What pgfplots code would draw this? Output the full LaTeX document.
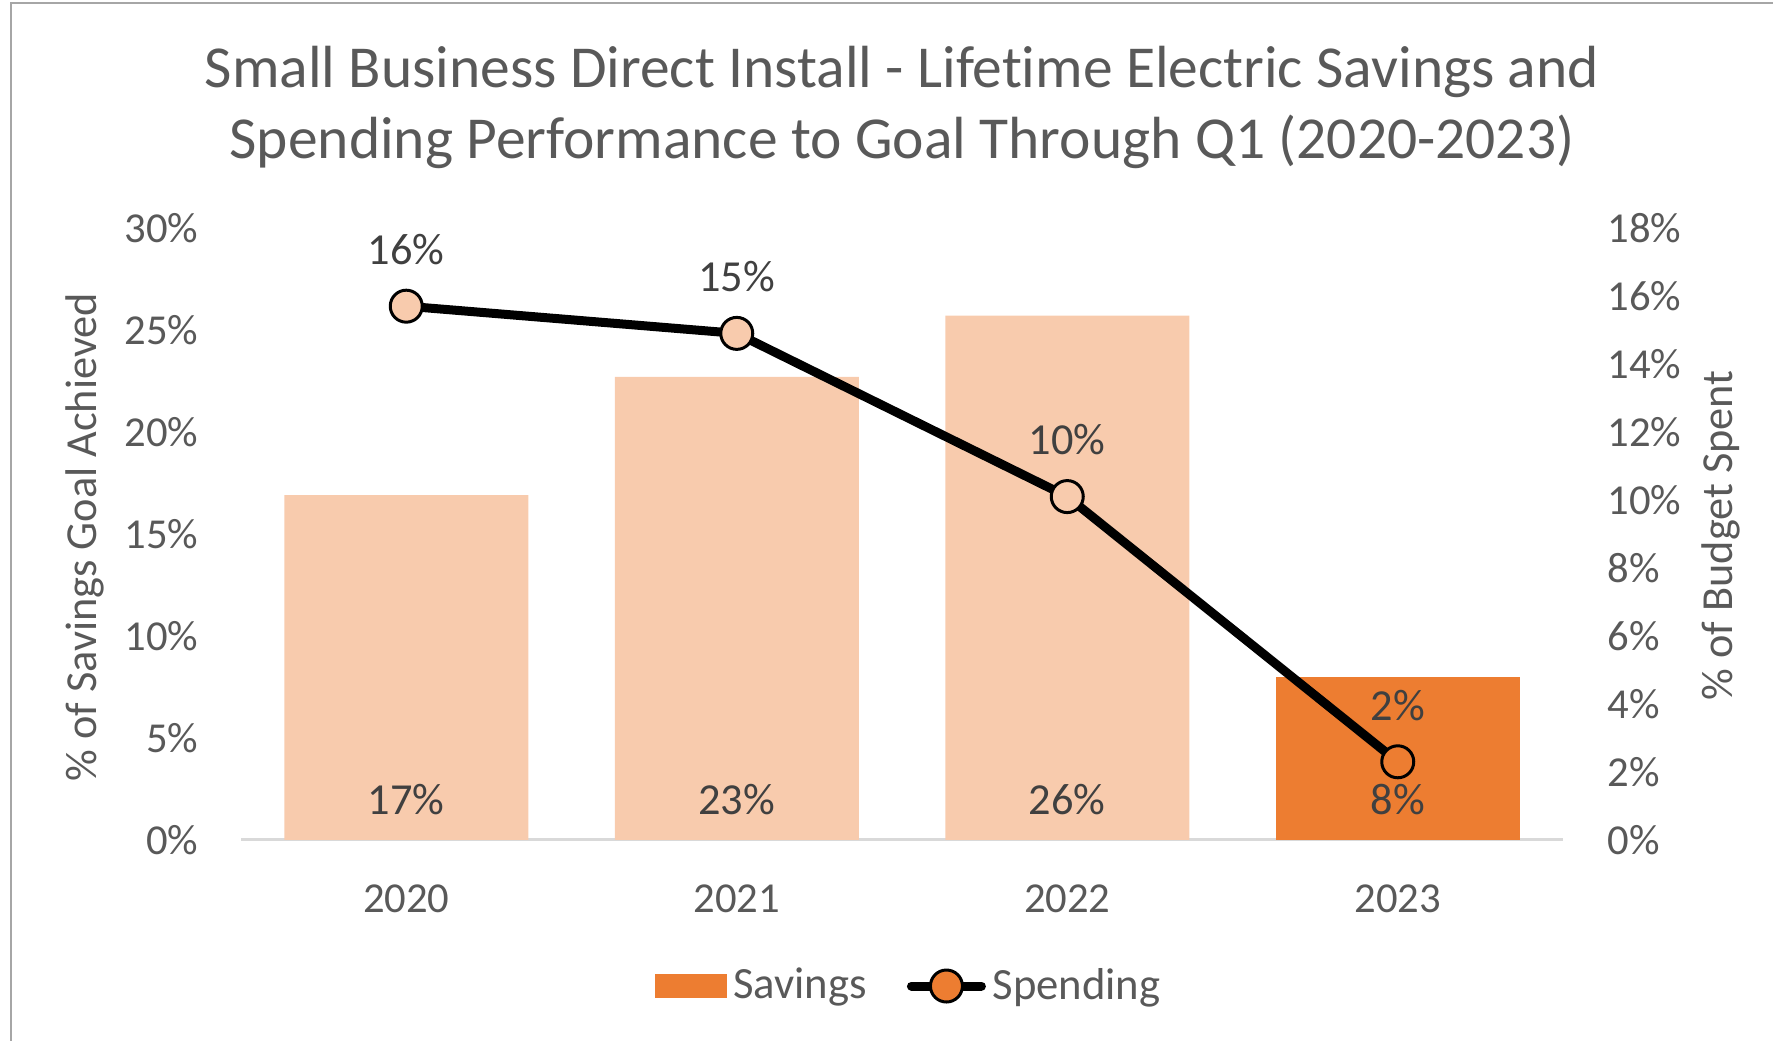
\documentclass[border=0pt]{standalone}
\usepackage{pgfplots}
\pgfplotsset{compat=1.18}
\usepackage{fontspec}
\setmainfont[Ligatures=NoCommon]{Carlito}
\definecolor{peach}{HTML}{F8CBAD}
\definecolor{orangeC}{HTML}{ED7D31}
\definecolor{txt}{HTML}{595959}
\definecolor{lbl}{HTML}{404040}
\definecolor{axl}{HTML}{D9D9D9}
\definecolor{frm}{HTML}{A6A6A6}
\newcommand{\tf}{\fontsize{12.8}{15}\selectfont}
\newcommand{\lf}{\fontsize{13.3}{15.5}\selectfont}
\begin{document}
\begin{tikzpicture}
\path[use as bounding box] (0,0) rectangle (531.9pt,312.3pt);
\draw[frm, line width=0.6pt] (3.3pt,0pt) -- (3.3pt,311.4pt) -- (531.9pt,311.4pt);
\node[align=center, text=txt, font=\fontsize{17.85}{21.3}\selectfont] at (270.6pt,280.2pt)
  {Small Business Direct Install - Lifetime Electric Savings and\\Spending Performance to Goal Through Q1 (2020-2023)};

\begin{axis}[
  at={(72.3pt,60.3pt)}, anchor=south west,
  scale only axis, width=396.6pt, height=183.6pt,
  xmin=-0.5, xmax=3.5, ymin=0, ymax=30,
  xtick={0,1,2,3}, xticklabels={2020,2021,2022,2023},
  ytick={0,5,...,30},
  yticklabel={\pgfmathprintnumber{\tick}\%},
  axis x line*=bottom, axis y line*=left,
  x axis line style={draw=axl, line width=0.9pt, -},
  y axis line style={draw=none, -},
  major tick length=0pt,
  tick label style={font=\tf, text=txt},
  /pgf/number format/assume math mode=true,
  yticklabel style={anchor=east, inner sep=0pt, xshift=-12.6pt},
  xticklabel style={anchor=center, inner sep=0pt, yshift=-17.7pt},
  ylabel={\% of Savings Goal Achieved},
  ylabel style={at={(axis description cs:-0.118,0.495)}, anchor=center, font=\lf, text=txt},
  clip=false,
]
\addplot[ybar, bar width=73.2pt, bar shift=0pt, fill=peach, draw=none] coordinates {(0,16.9) (1,22.7) (2,25.7)};
\addplot[ybar, bar width=73.2pt, bar shift=0pt, fill=orangeC, draw=none] coordinates {(3,8.0)};
\addplot[draw=none, mark=none, nodes near coords, point meta=explicit symbolic,
  every node near coord/.append style={anchor=center, yshift=12pt, font=\lf, text=lbl, inner sep=0pt}]
  coordinates {(0,0)[17\%] (1,0)[23\%] (2,0)[26\%] (3,0)[8\%]};
\end{axis}

\begin{axis}[
  at={(72.3pt,60.3pt)}, anchor=south west,
  scale only axis, width=396.6pt, height=183.6pt,
  xmin=-0.5, xmax=3.5, ymin=0, ymax=18,
  axis y line*=right, axis x line=none,
  y axis line style={draw=none, -},
  ytick={0,2,...,18},
  yticklabel={\pgfmathprintnumber{\tick}\%},
  major tick length=0pt,
  tick label style={font=\tf, text=txt},
  /pgf/number format/assume math mode=true,
  yticklabel style={anchor=west, inner sep=0pt, xshift=13.2pt},
  ylabel={\% of Budget Spent},
  ylabel style={at={(axis description cs:1.1195,0.498)}, anchor=center, font=\lf, text=txt},
  clip=false,
  legend style={at={(axis description cs:0.507,-0.2386)}, anchor=center, draw=none, fill=none,
    legend columns=2, font=\fontsize{13.4}{16}\selectfont, text=txt,
    /tikz/every even column/.append style={column sep=10pt}},
  legend cell align=left,
]
\addlegendimage{legend image code/.code={\fill[orangeC] (0pt,-3.45pt) rectangle (21pt,3.45pt);}}
\addlegendimage{legend image code/.code={\draw[black, line width=2.7pt, line cap=round] (0pt,0pt) -- (21pt,0pt); \filldraw[fill=orangeC, draw=black, line width=0.9pt] (10.5pt,0pt) circle (4.8pt);}}
\addplot[black, line width=2.7pt, mark=none, nodes near coords, point meta=explicit symbolic,
  every node near coord/.append style={anchor=center, yshift=17pt, font=\lf, text=lbl, inner sep=0pt}]
  coordinates {(0,15.7)[16\%] (1,14.9)[15\%] (2,10.1)[10\%] (3,2.3)[2\%]};
\addplot[only marks, mark=*, mark size=4.8pt, mark options={fill=peach, draw=black, line width=0.9pt}]
  coordinates {(0,15.7) (1,14.9) (2,10.1)};
\addplot[only marks, mark=*, mark size=4.8pt, mark options={fill=orangeC, draw=black, line width=0.9pt}]
  coordinates {(3,2.3)};
\legend{Savings,Spending}
\end{axis}
\end{tikzpicture}
\end{document}
